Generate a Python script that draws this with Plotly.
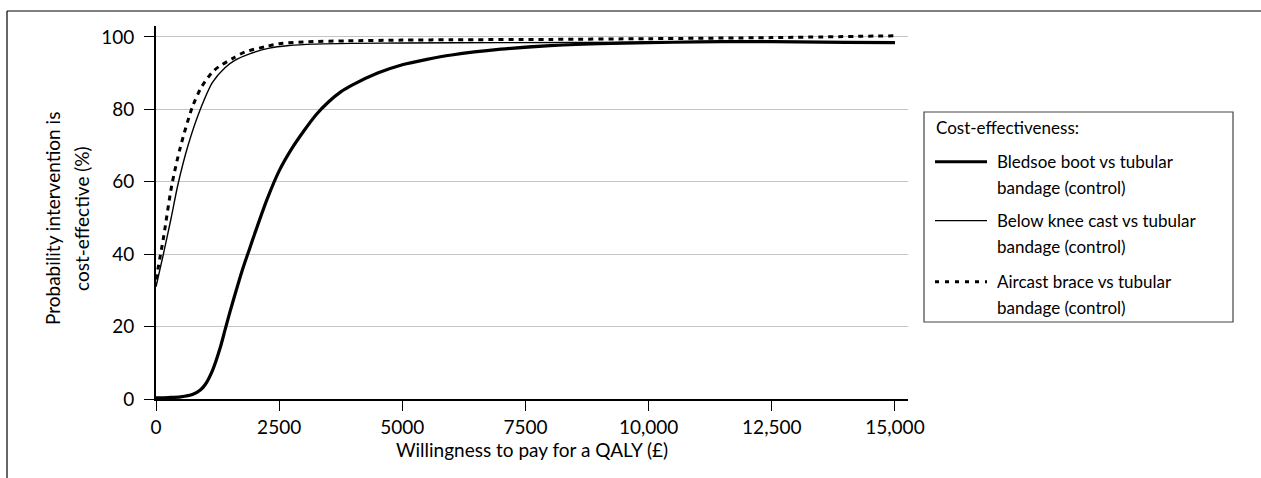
import plotly.graph_objects as go

# Willingness-to-pay thresholds (£ per QALY) and probability of cost-effectiveness (%)
wtp_bledsoe = [0, 250, 500, 750, 900, 1000, 1150, 1300, 1400, 1500, 1650, 1750, 1900, 2000,
               2250, 2500, 2750, 3000, 3250, 3500, 3750, 4000, 4500, 5000, 5500,
               6000, 7000, 8000, 9000, 10000, 11000, 12000, 13000, 14000, 15000]
prob_bledsoe = [0.3, 0.4, 0.6, 1.3, 2.5, 4.0, 8.0, 14.0, 19.0, 24.0, 31.0, 35.5, 41.5, 45.5,
                55.0, 63.0, 69.0, 74.0, 78.5, 82.0, 84.8, 86.8, 90.0, 92.3, 93.8,
                95.0, 96.6, 97.6, 98.1, 98.4, 98.6, 98.7, 98.6, 98.5, 98.4]

wtp_cast = [0, 150, 300, 450, 650, 900, 1150, 1400, 1600, 1900, 2300, 2700, 3200, 4000,
            5000, 7000, 10000, 12500, 15000]
prob_cast = [31.0, 40.0, 49.5, 59.5, 70.0, 80.0, 87.5, 91.5, 93.5, 95.3, 96.9, 97.6, 98.0, 98.2,
             98.3, 98.4, 98.5, 98.5, 98.5]

wtp_aircast = [0, 150, 320, 490, 740, 930, 1160, 1300, 1550, 1800, 2250, 2500, 3000, 3900,
               5000, 6000, 8000, 10000, 12500, 15000]
prob_aircast = [33.0, 44.4, 59.0, 69.3, 80.7, 86.3, 90.5, 92.0, 94.0, 95.8, 97.4, 98.1, 98.6, 98.9,
                99.1, 99.2, 99.3, 99.5, 99.8, 100.3]

x_ticks = [0, 2500, 5000, 7500, 10000, 12500, 15000]
x_tick_text = ["0", "2500", "5000", "7500", "10,000", "12,500", "15,000"]
y_ticks = [0, 20, 40, 60, 80, 100]

legend_title = "Cost-effectiveness:"
series_labels = [
    ["Bledsoe boot vs tubular", "bandage (control)"],
    ["Below knee cast vs tubular", "bandage (control)"],
    ["Aircast brace vs tubular", "bandage (control)"],
]

FONT = "Lato"
W, H = 1261, 478
L, R, T, B = 156, 908, 26, 399  # plot-area pixel box


def px(x):
    return (x - L) / (R - L)


def py(y):
    return (B - y) / (B - T)


fig = go.Figure()
fig.add_trace(go.Scatter(x=wtp_bledsoe, y=prob_bledsoe, mode="lines",
                         line=dict(color="black", width=3.2, shape="spline", smoothing=0.8)))
fig.add_trace(go.Scatter(x=wtp_cast, y=prob_cast, mode="lines",
                         line=dict(color="black", width=1.4, shape="spline", smoothing=0.8)))
fig.add_trace(go.Scatter(x=wtp_aircast, y=prob_aircast, mode="lines",
                         line=dict(color="black", width=3, dash="5px,5px", shape="spline",
                                   smoothing=0.8)))

shapes = [
    # outer frame (top and left rules)
    dict(type="line", xref="paper", yref="paper", x0=px(7), x1=px(W + 5), y0=py(11), y1=py(11),
         line=dict(color="black", width=1.2)),
    dict(type="line", xref="paper", yref="paper", x0=px(7), x1=px(7), y0=py(11), y1=py(H + 5),
         line=dict(color="black", width=1.2)),
    # legend box
    dict(type="rect", xref="paper", yref="paper", x0=px(924), x1=px(1233), y0=py(112), y1=py(322),
         line=dict(color="#444444", width=1.2), fillcolor="white"),
]
annotations = [
    dict(text=legend_title, xref="paper", yref="paper", x=px(934), y=py(128), xanchor="left",
         yanchor="middle", showarrow=False, font=dict(family=FONT, size=17, color="black")),
    dict(text="Probability intervention is", xref="paper", yref="paper", x=px(52), y=py(219),
         textangle=-90, xanchor="center", yanchor="middle", showarrow=False,
         font=dict(family=FONT, size=19, color="black")),
    dict(text="cost-effective (%)", xref="paper", yref="paper", x=px(81), y=py(219),
         textangle=-90, xanchor="center", yanchor="middle", showarrow=False,
         font=dict(family=FONT, size=19, color="black")),
]
sample_styles = [dict(width=3, dash="solid"), dict(width=1.2, dash="solid"),
                 dict(width=3, dash="4px,6px")]
entry_y = [161.7, 220.7, 281.7]
for lines, style, y0 in zip(series_labels, sample_styles, entry_y):
    shapes.append(dict(type="line", xref="paper", yref="paper", x0=px(935), x1=px(987),
                       y0=py(y0), y1=py(y0), line=dict(color="black", **style)))
    for i, t in enumerate(lines):
        annotations.append(dict(text=t, xref="paper", yref="paper", x=px(995), y=py(y0 + 25.8 * i),
                                xanchor="left", yanchor="middle", showarrow=False,
                                font=dict(family=FONT, size=17, color="black")))

fig.update_layout(
    width=W, height=H,
    margin=dict(l=L, r=W - R, t=T, b=H - B),
    paper_bgcolor="white", plot_bgcolor="white",
    showlegend=False,
    font=dict(family=FONT, size=19, color="black"),
    shapes=shapes, annotations=annotations,
    xaxis=dict(range=[0, 15265], tickvals=x_ticks, ticktext=x_tick_text,
               ticks="outside", ticklen=10, tickwidth=1.2, tickcolor="black",
               ticklabelstandoff=0,
               showline=True, linecolor="black", linewidth=2, showgrid=False, zeroline=False,
               title=dict(text="Willingness to pay for a QALY (£)", standoff=7,
                          font=dict(family=FONT, size=19))),
    yaxis=dict(range=[0, 103], tickvals=y_ticks, ticks="outside", ticklen=10, tickwidth=1.2,
               tickcolor="black", ticklabelstandoff=6, showline=True, linecolor="black",
               linewidth=2, showgrid=True, gridcolor="#c4c4c4", gridwidth=1.2, zeroline=False),
)

fig.write_html("out.html")
